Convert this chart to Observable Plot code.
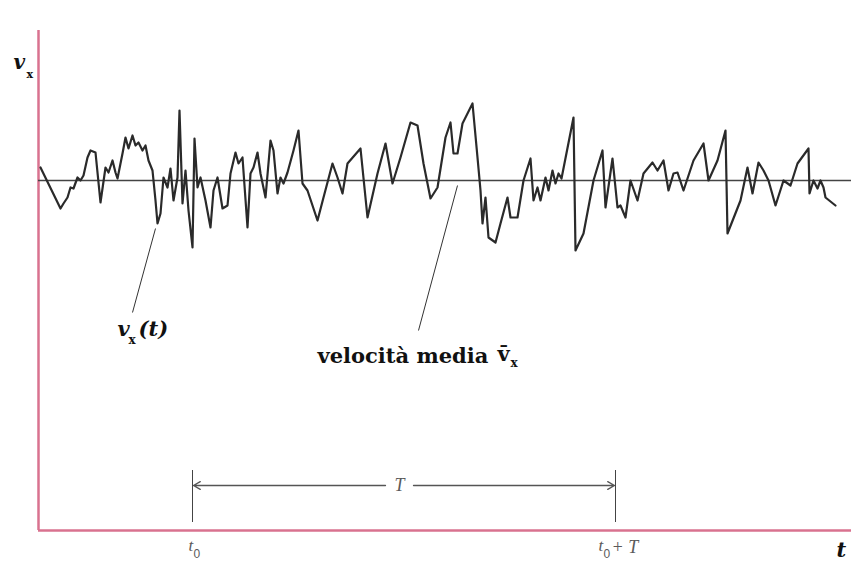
<!DOCTYPE html>
<html>
<head>
<meta charset="utf-8">
<script src="https://cdn.jsdelivr.net/npm/d3@7"></script>
<script src="https://cdn.jsdelivr.net/npm/@observablehq/plot@0.6"></script>
<style>
  html, body { margin: 0; padding: 0; background: #fff; }
  #chart svg { display: block; }
</style>
</head>
<body>
<div id="chart"></div>
<script>
// Time values (arbitrary units, axis origin at 0) and velocity fluctuation (mean = 0)
const tVals = [2,22,25,29,32,35,39,42,45,49,52,57,62,67,70,74,77,79,84,87,90,94,97,100,104,107,110,114,117,119,122,125,129,132,135,139,141,144,147,150,154,156,159,162,167,172,175,179,184,189,192,197,200,204,209,212,215,219,222,227,232,235,239,242,245,249,255,260,264,269,279,285,294,299,304,309,322,329,339,347,354,362,372,379,385,392,399,407,412,415,419,424,434,439,442,444,447,450,457,462,469,472,479,485,492,495,499,502,507,510,514,517,520,523,535,537,545,555,564,567,574,579,582,587,592,599,605,614,619,625,630,635,639,645,655,665,670,679,687,689,702,709,714,720,725,730,737,745,752,759,770,771,775,779,782,785,787,797];
const vVals = [13,-28,-23,-17,-7,-8,3,0,5,23,30,28,-22,13,8,20,8,2,27,43,32,45,35,38,30,35,20,10,-20,-43,-33,3,-7,12,-20,3,70,-23,10,-30,-67,42,-7,3,-20,-47,-10,3,-28,-25,7,28,17,23,-47,7,13,28,7,-17,40,30,-13,3,-3,8,30,50,-3,-10,-40,-17,17,3,-13,17,32,-37,7,37,-3,23,58,55,17,-18,-7,43,58,27,27,57,77,23,-10,-43,-17,-57,-62,-43,-17,-37,-37,0,22,-20,-7,-20,3,-10,10,-3,7,2,63,-70,-53,0,30,-27,22,-27,-25,-37,0,-20,7,18,10,20,-10,7,8,-10,20,37,0,20,50,-53,-20,13,-13,18,10,0,-25,0,-5,17,32,-13,0,-8,0,-7,-17,-25];

const meanV = 0;
const tMax = 813;      // end of time axis
const vTop = 150;      // top of velocity axis
const vBottom = -350;  // time axis position

// Interval T
const t0 = 154;
const t0T = 577;
const bracketTop = -290;
const bracketBottom = -342;
const arrowV = -305;
const gapStart = 347, gapEnd = 375;

// Annotation anchors
const leaderVt = [{t1: 117, v1: -48, t2: 94, v2: -132}];
const leaderMean = [{t1: 419, v1: -5, t2: 380, v2: -150}];

const signal = tVals.map((t, i) => ({t, v: vVals[i]}));

const serif = "DejaVu Serif";
const times = "Liberation Serif";
const sans = "Liberation Sans";
const grey = "#5a5a5a";

const txt = (s, o) => Plot.text([s], {text: d => d, textAnchor: "start", lineAnchor: "bottom", ...o});

const plot = Plot.plot({
  width: 851,
  height: 562,
  margin: 0,
  style: {background: "#fff"},
  x: {domain: [-38, 813], axis: null},
  y: {domain: [-382, 180], axis: null},
  marks: [
    // axes
    Plot.ruleX([0], {y1: vBottom, y2: vTop, stroke: "#d9728f", strokeWidth: 2.5}),
    Plot.ruleY([vBottom], {x1: 0, x2: tMax, stroke: "#d9728f", strokeWidth: 2.5}),
    // mean line
    Plot.ruleY([meanV], {x1: 0, x2: tMax, stroke: "#444", strokeWidth: 1.6}),
    // signal
    Plot.line(signal, {x: "t", y: "v", stroke: "#2a2a2a", strokeWidth: 2.2, strokeLinejoin: "round"}),
    // leaders
    Plot.link(leaderVt, {x1: "t1", y1: "v1", x2: "t2", y2: "v2", stroke: "#333", strokeWidth: 1}),
    Plot.link(leaderMean, {x1: "t1", y1: "v1", x2: "t2", y2: "v2", stroke: "#333", strokeWidth: 1}),
    // interval bracket
    Plot.ruleX([t0, t0T], {y1: bracketBottom, y2: bracketTop, stroke: "#444", strokeWidth: 1}),
    Plot.arrow([{a: gapStart, b: t0 + 1}, {a: gapEnd, b: t0T - 1}], {x1: "a", x2: "b", y1: arrowV, y2: arrowV, stroke: "#555", strokeWidth: 1.3, headLength: 9}),
    Plot.text(["T"], {x: (gapStart + gapEnd) / 2, y: arrowV, text: d => d, fontFamily: times, fontStyle: "italic", fontSize: 18, fill: grey, lineAnchor: "middle"}),
    // tick labels
    txt("t", {x: 150, y: -370, fontFamily: times, fontStyle: "italic", fontSize: 17, fill: grey}),
    txt("0", {x: 155, y: -377, fontFamily: sans, fontSize: 12, fill: grey}),
    txt("t", {x: 560, y: -370, fontFamily: times, fontStyle: "italic", fontSize: 17, fill: grey}),
    txt("0", {x: 565, y: -377, fontFamily: sans, fontSize: 12, fill: grey}),
    txt("+ T", {x: 573, y: -372, fontFamily: times, fontStyle: "italic", fontSize: 18, fill: grey}),
    // axis titles
    txt("v", {x: -25, y: 112, fontFamily: serif, fontStyle: "italic", fontWeight: "bold", fontSize: 20, fill: "#111"}),
    txt("x", {x: -12, y: 103, fontFamily: serif, fontWeight: "bold", fontSize: 11, fill: "#111"}),
    txt("t", {x: 798, y: -376, fontFamily: serif, fontStyle: "italic", fontWeight: "bold", fontSize: 21, fill: "#111"}),
    // v_x(t) label
    txt("v", {x: 79, y: -155, fontFamily: serif, fontStyle: "italic", fontWeight: "bold", fontSize: 21, fill: "#111"}),
    txt("x", {x: 90, y: -163, fontFamily: serif, fontWeight: "bold", fontSize: 12, fill: "#111"}),
    txt("(t)", {x: 100, y: -155, fontFamily: serif, fontStyle: "italic", fontWeight: "bold", fontSize: 21, fill: "#111"}),
    // mean label
    txt("velocità media", {x: 279, y: -182, fontFamily: serif, fontWeight: "bold", fontSize: 21, fill: "#111"}),
    txt("v\u0304", {x: 459, y: -180, fontFamily: serif, fontWeight: "bold", fontSize: 21, fill: "#111"}),
    txt("x", {x: 472, y: -186, fontFamily: serif, fontWeight: "bold", fontSize: 12, fill: "#111"})
  ]
});
document.getElementById("chart").appendChild(plot);
</script>
</body>
</html>
